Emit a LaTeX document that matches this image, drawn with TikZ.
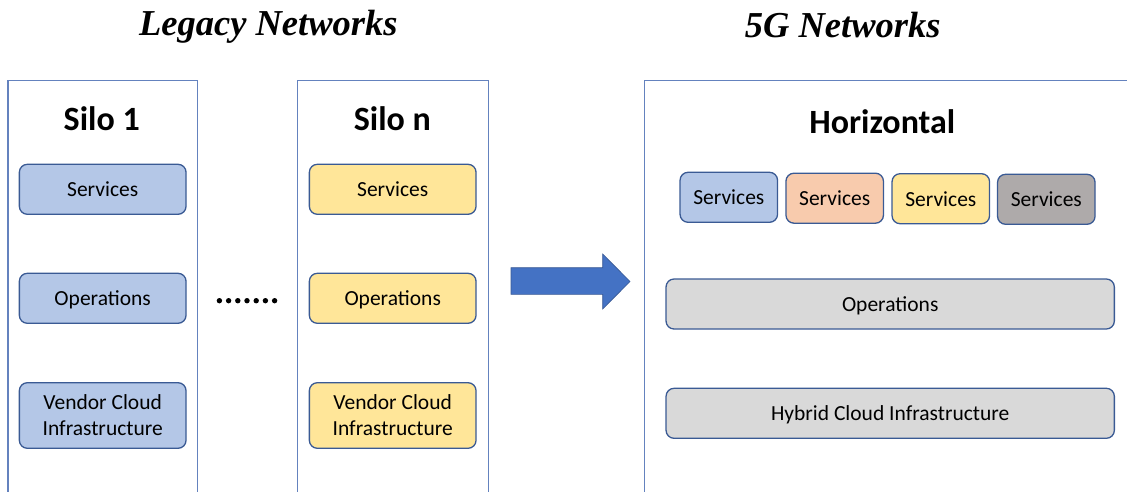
\documentclass[tikz,border=0pt]{standalone}
\usepackage{fontspec}
\setmainfont{Carlito}
\newfontfamily\headfont{Liberation Serif}
\definecolor{framec}{HTML}{6482BE}
\definecolor{edgec}{HTML}{3A5A94}
\definecolor{bluef}{HTML}{B4C7E7}
\definecolor{yellowf}{HTML}{FFE699}
\definecolor{orangef}{HTML}{F8CBAD}
\definecolor{darkgreyf}{HTML}{AEAAAA}
\definecolor{lightgreyf}{HTML}{D9D9D9}
\definecolor{arrowf}{HTML}{4472C4}
\tikzset{
  frameline/.style={draw=framec, line width=1.4pt},
  layerbox/.style={draw=edgec, line width=1.3pt, rounded corners=8pt,
    minimum height=50pt, inner sep=0pt, align=center,
    font=\fontsize{21.5}{26}\selectfont},
  oneline/.style={text height=19.8pt, text depth=5pt},
  silobox/.style={layerbox, minimum width=166.7pt},
  svcbox/.style={layerbox, oneline, minimum width=97.5pt},
  widebox/.style={layerbox, oneline, minimum width=448.3pt, fill=lightgreyf},
  silotitle/.style={font=\fontsize{34}{40}\selectfont\bfseries, anchor=base, inner sep=0pt},
  headtitle/.style={font=\headfont\fontsize{36.5}{42}\selectfont\bfseries\itshape, anchor=base, inner sep=0pt},
  ellipsisdot/.style={fill=black}
}
\begin{document}
\begin{tikzpicture}[x=1pt,y=-1pt]
\useasboundingbox (0,0) rectangle (1127,492);

% section headings
\node[headtitle] (legacy) at (268.3,36) {Legacy Networks};
\node[headtitle] (fiveg) at (842.7,37.5) {5G Networks};

% open-bottom frames
\draw[frameline] (8,492) -- (8,80.5) -- (197.7,80.5) -- (197.7,492);
\draw[frameline] (297.7,492) -- (297.7,80.5) -- (488.3,80.5) -- (488.3,492);
\draw[frameline] (644.3,492) -- (644.3,80.7) -- (1127,80.7);

% silo 1
\node[silotitle] (s1title) at (101.7,130.7) {Silo 1};
\node[silobox, oneline, fill=bluef] (s1svc) at (102.7,189.3) {Services};
\node[silobox, oneline, fill=bluef] (s1ops) at (102.7,298.3) {Operations};
\node[silobox, fill=bluef, minimum height=65.6pt] (s1inf) at (102.7,415.5) {Vendor Cloud\\Infrastructure};

% silo n
\node[silotitle] (sntitle) at (392.3,130.7) {Silo n};
\node[silobox, oneline, fill=yellowf] (snsvc) at (392.7,189.3) {Services};
\node[silobox, oneline, fill=yellowf] (snops) at (392.7,298.3) {Operations};
\node[silobox, fill=yellowf, minimum height=65.6pt] (sninf) at (392.7,415.5) {Vendor Cloud\\Infrastructure};

% ellipsis between the silos
\foreach \i in {0,...,6}
  \fill[ellipsisdot] (219.4+9.2*\i,300.7) circle (2.7pt);

% transition arrow
\fill[arrowf, draw=edgec, line width=0.6pt]
  (511,267.7) -- (602.7,267.7) -- (602.7,254) -- (630,281.5)
  -- (602.7,309) -- (602.7,294.3) -- (511,294.3) -- cycle;

% horizontal architecture
\node[silotitle] (htitle) at (882.3,134) {Horizontal};
\node[svcbox, fill=bluef] (hsvc1) at (728.8,197.3) {Services};
\node[svcbox, fill=orangef] (hsvc2) at (834.7,198.2) {Services};
\node[svcbox, fill=yellowf] (hsvc3) at (940.8,198.7) {Services};
\node[svcbox, fill=darkgreyf] (hsvc4) at (1046.3,199.3) {Services};
\node[widebox] (hops) at (890.2,304) {Operations};
\node[widebox] (hinf) at (890.2,413.3) {Hybrid Cloud Infrastructure};
\end{tikzpicture}
\end{document}
